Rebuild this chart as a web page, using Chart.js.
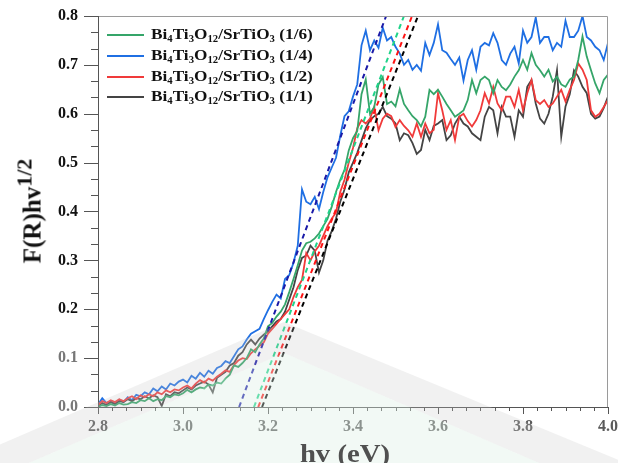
<!DOCTYPE html>
<html lang="en">
<head>
  <meta charset="UTF-8">
  <title>F(R)hv^1/2 vs hv</title>
  <script src="https://cdn.jsdelivr.net/npm/chart.js"></script>
  <style>
    body { margin: 0; background: #fff; }
    #wrap {
      position: relative;
      width: 618px;
      height: 463px;
      overflow: hidden;
      font-family: 'Liberation Serif', 'Times New Roman', serif;
      font-weight: bold;
      color: #111;
    }
    canvas { position: absolute; left: 0; top: 0; }
    .legend-line { position: absolute; width: 37px; height: 2px; }
    .legend-text {
      position: absolute;
      font-size: 15px;
      line-height: 15px;
      white-space: nowrap;
      transform: scaleX(1.15);
      transform-origin: left center;
    }
    .legend-text sub { font-size: 0.62em; vertical-align: -0.28em; line-height: 0; }
    #ytitle {
      position: absolute;
      left: 32px;
      top: 211px;
      font-size: 25px;
      line-height: 25px;
      white-space: nowrap;
      transform: translate(-50%, -50%) rotate(-90deg);
    }
    #ytitle sup { font-size: 0.88em; vertical-align: 0.42em; line-height: 0; }
    #xtitle {
      position: absolute;
      left: 345px;
      top: 441px;
      font-size: 25px;
      line-height: 25px;
      white-space: nowrap;
      color: #505050;
      transform: translateX(-50%) scaleX(1.15);
    }
  </style>
</head>
<body>
  <div id="wrap">
    <canvas id="chart" width="618" height="463"></canvas>
    <div id="legend"></div>
    <div id="ytitle">F(R)hv<sup>1/2</sup></div>
    <div id="xtitle">hv (eV)</div>
  </div>

  <script>
    // sampling grid of the spectra (eV)
    const hvStart = 2.80;
    const hvStep = 0.01;

    const seriesNames = [
      'Bi<sub>4</sub>Ti<sub>3</sub>O<sub>12</sub>/SrTiO<sub>3</sub> (1/6)',
      'Bi<sub>4</sub>Ti<sub>3</sub>O<sub>12</sub>/SrTiO<sub>3</sub> (1/4)',
      'Bi<sub>4</sub>Ti<sub>3</sub>O<sub>12</sub>/SrTiO<sub>3</sub> (1/2)',
      'Bi<sub>4</sub>Ti<sub>3</sub>O<sub>12</sub>/SrTiO<sub>3</sub> (1/1)'
    ];

    // (1/6)
    const green = [
      0.000, 0.004, 0.002, 0.006, 0.003, 0.008, 0.005, 0.006, 0.010, 0.008,
      0.014, 0.012, 0.018, 0.012, 0.016, 0.014, 0.022, 0.020, 0.026, 0.024,
      0.028, 0.035, 0.030, 0.036, 0.040, 0.038, 0.046, 0.044, 0.050, 0.048,
      0.058, 0.066, 0.085, 0.082, 0.090, 0.100, 0.118, 0.112, 0.128, 0.140,
      0.165, 0.172, 0.185, 0.195, 0.210, 0.235, 0.262, 0.290, 0.320, 0.335,
      0.338, 0.345, 0.355, 0.370, 0.385, 0.410, 0.440, 0.465, 0.485, 0.525,
      0.550, 0.565, 0.640, 0.670, 0.600, 0.614, 0.660, 0.675, 0.620, 0.625,
      0.615, 0.650, 0.620, 0.607, 0.595, 0.587, 0.574, 0.594, 0.649, 0.640,
      0.649, 0.635, 0.620, 0.607, 0.594, 0.600, 0.607, 0.628, 0.669, 0.642,
      0.669, 0.676, 0.669, 0.642, 0.669, 0.655, 0.648, 0.660, 0.676, 0.689,
      0.710, 0.690, 0.724, 0.700, 0.689, 0.676, 0.690, 0.666, 0.676, 0.660,
      0.655, 0.670, 0.676, 0.710, 0.758, 0.717, 0.689, 0.662, 0.642, 0.669,
      0.680
    ];

    // (1/4)
    const blue = [
      0.005, 0.018, 0.008, 0.012, 0.006, 0.015, 0.010, 0.020, 0.014, 0.025,
      0.022, 0.030, 0.026, 0.038, 0.032, 0.042, 0.036, 0.048, 0.044, 0.052,
      0.056, 0.050, 0.064, 0.058, 0.070, 0.062, 0.074, 0.068, 0.080, 0.084,
      0.094, 0.090, 0.104, 0.118, 0.124, 0.138, 0.150, 0.155, 0.160, 0.180,
      0.198, 0.215, 0.230, 0.222, 0.262, 0.270, 0.295, 0.330, 0.445, 0.420,
      0.415, 0.430, 0.405, 0.440, 0.470, 0.490, 0.510, 0.555, 0.595, 0.605,
      0.635, 0.660, 0.740, 0.770, 0.730, 0.750, 0.735, 0.776, 0.750, 0.757,
      0.737, 0.723, 0.700, 0.710, 0.690, 0.700, 0.688, 0.745, 0.720, 0.745,
      0.783, 0.730, 0.725, 0.712, 0.700, 0.715, 0.668, 0.710, 0.730, 0.690,
      0.737, 0.745, 0.740, 0.765, 0.745, 0.710, 0.700, 0.723, 0.737, 0.703,
      0.770, 0.745, 0.757, 0.797, 0.745, 0.757, 0.757, 0.730, 0.745, 0.737,
      0.790, 0.757, 0.757, 0.770, 0.800, 0.757, 0.750, 0.737, 0.730, 0.710,
      0.745
    ];

    // (1/2)
    const red = [
      0.004, 0.012, 0.008, 0.014, 0.010, 0.016, 0.012, 0.018, 0.022, 0.016,
      0.024, 0.020, 0.026, 0.022, 0.030, 0.026, 0.034, 0.030, 0.036, 0.034,
      0.040, 0.044, 0.038, 0.048, 0.055, 0.050, 0.058, 0.054, 0.062, 0.068,
      0.075, 0.072, 0.086, 0.095, 0.100, 0.098, 0.110, 0.118, 0.125, 0.132,
      0.150, 0.160, 0.170, 0.180, 0.190, 0.200, 0.225, 0.245, 0.260, 0.315,
      0.300, 0.318, 0.330, 0.350, 0.370, 0.385, 0.398, 0.440, 0.465, 0.500,
      0.530, 0.570, 0.587, 0.580, 0.590, 0.614, 0.566, 0.590, 0.600, 0.595,
      0.573, 0.587, 0.575, 0.566, 0.553, 0.580, 0.553, 0.580, 0.560, 0.567,
      0.642, 0.607, 0.567, 0.587, 0.546, 0.594, 0.600, 0.585, 0.574, 0.587,
      0.607, 0.642, 0.621, 0.655, 0.621, 0.607, 0.635, 0.635, 0.614, 0.649,
      0.607, 0.642, 0.669, 0.628, 0.620, 0.628, 0.614, 0.621, 0.635, 0.649,
      0.625, 0.649, 0.669, 0.703, 0.690, 0.669, 0.607, 0.594, 0.600, 0.614,
      0.628
    ];

    // (1/1)
    const black = [
      0.002, 0.008, 0.004, 0.010, 0.006, 0.012, 0.010, 0.016, 0.012, 0.018,
      0.016, 0.022, 0.018, 0.024, 0.020, 0.002, 0.026, 0.022, 0.030, 0.028,
      0.034, 0.040, 0.036, 0.044, 0.048, 0.052, 0.046, 0.030, 0.060, 0.066,
      0.072, 0.085, 0.090, 0.105, 0.112, 0.128, 0.138, 0.128, 0.140, 0.148,
      0.155, 0.165, 0.175, 0.180, 0.195, 0.220, 0.245, 0.280, 0.305, 0.310,
      0.330, 0.320, 0.275, 0.300, 0.340, 0.360, 0.385, 0.420, 0.445, 0.480,
      0.500, 0.520, 0.545, 0.570, 0.587, 0.595, 0.600, 0.614, 0.595, 0.590,
      0.580, 0.546, 0.560, 0.556, 0.540, 0.518, 0.526, 0.567, 0.546, 0.575,
      0.580, 0.587, 0.546, 0.556, 0.580, 0.594, 0.580, 0.574, 0.560, 0.553,
      0.546, 0.594, 0.614, 0.607, 0.560, 0.614, 0.594, 0.594, 0.553, 0.607,
      0.594, 0.655, 0.669, 0.621, 0.590, 0.580, 0.600, 0.635, 0.689, 0.553,
      0.615, 0.640, 0.689, 0.676, 0.655, 0.642, 0.600, 0.590, 0.594, 0.612,
      0.635
    ];

    // linear-fit tangent lines (x at y = 0 and at y = 0.8), legend order
    const tangentFoot = [3.167, 3.132, 3.177, 3.186];
    const tangentTop = [3.520, 3.478, 3.539, 3.553];
    const tangentY = [0, 0.8];

    const xTickValues = [2.8, 3.0, 3.2, 3.4, 3.6, 3.8, 4.0];
    const yTickValues = [0, 0.1, 0.2, 0.3, 0.4, 0.5, 0.6, 0.7, 0.8];

    const lineColors = ['#35a569', '#1f6fe3', '#f03a3a', '#444444'];
    const dashColors = ['#1fd38a', '#1a1aa8', '#ff1414', '#000000'];
    const drawOrder = [1, 4, 2, 3];

    const series = [green, blue, red, black];

    function toPoints(values) {
      return values.map((v, i) => ({ x: +(hvStart + i * hvStep).toFixed(2), y: v }));
    }

    const datasets = [];
    series.forEach((values, s) => {
      datasets.push({
        data: toPoints(values),
        borderColor: lineColors[s],
        borderWidth: 1.8,
        pointRadius: 0,
        tension: 0,
        order: drawOrder[s]
      });
    });
    series.forEach((values, s) => {
      datasets.push({
        data: [{ x: tangentFoot[s], y: tangentY[0] }, { x: tangentTop[s], y: tangentY[1] }],
        borderColor: dashColors[s],
        borderWidth: 2,
        borderDash: [5, 4],
        pointRadius: 0,
        order: 0
      });
    });

    // frame, minor ticks and the faint watermark
    const decorations = {
      id: 'decorations',
      afterDatasetsDraw(chart) {
        const { ctx, chartArea: a, scales: { x, y } } = chart;
        ctx.save();
        ctx.lineWidth = 1;
        ctx.strokeStyle = '#9a9a9a';
        ctx.beginPath();
        ctx.moveTo(a.left, a.top + 0.5);
        ctx.lineTo(a.right - 0.5, a.top + 0.5);
        ctx.lineTo(a.right - 0.5, a.bottom);
        ctx.stroke();

        ctx.strokeStyle = '#555';
        ctx.beginPath();
        ctx.moveTo(a.left + 0.5, a.top);
        ctx.lineTo(a.left + 0.5, a.bottom + 0.5);
        ctx.lineTo(a.right, a.bottom + 0.5);
        ctx.stroke();

        ctx.beginPath();
        for (let k = 0; k <= 36; k++) {
          const px = Math.round(x.getPixelForValue(2.8 + k * 0.2 / 6)) + 0.5;
          const len = k % 6 === 0 ? 7 : 4;
          ctx.moveTo(px, a.bottom);
          ctx.lineTo(px, a.bottom + len);
        }
        for (let k = 0; k <= 24; k++) {
          const py = Math.round(y.getPixelForValue(k * 0.1 / 3)) + 0.5;
          const len = k % 3 === 0 ? 14 : 7;
          ctx.moveTo(a.left - len, py);
          ctx.lineTo(a.left, py);
        }
        ctx.stroke();
        ctx.restore();
      },
      afterDraw(chart) {
        const { ctx } = chart;
        ctx.save();
        // pale green field under the chevron
        ctx.fillStyle = 'rgba(222,240,228,0.38)';
        ctx.beginPath();
        ctx.moveTo(-20, 484);
        ctx.lineTo(284, 353);
        ctx.lineTo(660, 515);
        ctx.lineTo(660, 600);
        ctx.lineTo(-20, 600);
        ctx.closePath();
        ctx.fill();
        // grey chevron band
        ctx.fillStyle = 'rgba(200,200,200,0.25)';
        ctx.beginPath();
        ctx.moveTo(-20, 453);
        ctx.lineTo(284, 322);
        ctx.lineTo(660, 477);
        ctx.lineTo(660, 515);
        ctx.lineTo(284, 353);
        ctx.lineTo(-20, 484);
        ctx.closePath();
        ctx.fill();
        ctx.restore();
      }
    };

    const tickFont = { family: "'Liberation Serif', 'Times New Roman', serif", weight: 'bold', size: 16 };

    new Chart(document.getElementById('chart'), {
      type: 'line',
      data: { datasets },
      options: {
        responsive: false,
        animation: false,
        events: [],
        layout: { padding: { left: 0, right: 10, top: 16, bottom: 0 } },
        plugins: { legend: { display: false }, tooltip: { enabled: false } },
        scales: {
          x: {
            type: 'linear',
            min: 2.8,
            max: 4.0,
            grid: { display: false, drawTicks: false },
            border: { display: false },
            afterBuildTicks: s => { s.ticks = xTickValues.map(v => ({ value: v })); },
            afterFit: s => { s.height = 56; s.paddingLeft = 0; s.paddingRight = 0; },
            ticks: {
              padding: 10,
              autoSkip: false,
              maxRotation: 0,
              font: tickFont,
              color: '#5a5a5a',
              callback: v => v.toFixed(1)
            }
          },
          y: {
            min: 0,
            max: 0.8,
            grid: { display: false, drawTicks: false },
            border: { display: false },
            afterBuildTicks: s => { s.ticks = yTickValues.map(v => ({ value: v })); },
            afterFit: s => { s.width = 98; s.paddingTop = 0; s.paddingBottom = 0; },
            ticks: {
              padding: 20,
              font: tickFont,
              color: c => (c.tick && c.tick.value <= 0.11 ? '#777' : '#111'),
              callback: v => v.toFixed(1)
            }
          }
        }
      },
      plugins: [decorations]
    });

    // legend in the upper left of the plot
    const legendRows = [35, 56, 77, 97];
    const legend = document.getElementById('legend');
    seriesNames.forEach((name, s) => {
      const line = document.createElement('div');
      line.className = 'legend-line';
      line.style.left = '107px';
      line.style.top = (legendRows[s] - 1) + 'px';
      line.style.background = lineColors[s];
      legend.appendChild(line);

      const text = document.createElement('div');
      text.className = 'legend-text';
      text.style.left = '151px';
      text.style.top = (legendRows[s] - 8) + 'px';
      text.innerHTML = name;
      legend.appendChild(text);
    });
  </script>
</body>
</html>
